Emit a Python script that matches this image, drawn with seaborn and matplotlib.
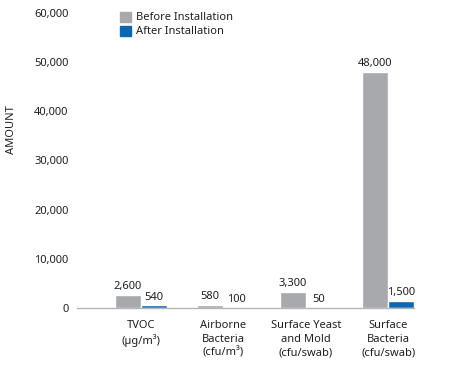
import pandas as pd
import matplotlib.pyplot as plt
import seaborn as sns
from matplotlib.patches import Patch

categories = ["TVOC\n(µg/m³)", "Airborne\nBacteria\n(cfu/m³)",
              "Surface Yeast\nand Mold\n(cfu/swab)", "Surface\nBacteria\n(cfu/swab)"]
before = [2600, 580, 3300, 48000]
after = [540, 100, 50, 1500]
series = ["Before Installation", "After Installation"]
yticks = [0, 10000, 20000, 30000, 40000, 50000, 60000]

df = pd.DataFrame({
    "category": categories * 2,
    "series": [series[0]] * 4 + [series[1]] * 4,
    "amount": before + after,
})

sns.set_style("white")
plt.rcParams["font.family"] = ["Noto Sans", "DejaVu Sans"]
txt = "#231f20"
colors = ["#a7a9ac", "#0a67b2"]
fs = 8

fig = plt.figure(figsize=(4.49, 3.65), dpi=100)
ax = fig.add_axes([77 / 449, 57 / 365, 337 / 449, 295 / 365])

sns.barplot(data=df, x="category", y="amount", hue="series", palette=colors,
            width=0.63, saturation=1, ax=ax, legend=False)

for cont in ax.containers:
    ax.bar_label(cont, labels=[f"{v:,.0f}" for v in cont.datavalues],
                 padding=2, fontsize=fs, color=txt)

ax.set_xlim(-0.77, 3.31)
ax.set_ylim(0, 60000)
ax.set_yticks(yticks)
ax.set_yticklabels([f"{v:,}" for v in yticks])
ax.tick_params(axis="y", length=0, pad=6, labelsize=fs, colors=txt)
ax.tick_params(axis="x", length=0, pad=9, labelsize=fs, colors=txt)
for lbl in ax.get_xticklabels():
    lbl.set_linespacing(1.3)
ax.set_xlabel("")
ax.set_ylabel("")
for s in ["top", "right", "left"]:
    ax.spines[s].set_visible(False)
ax.spines["bottom"].set_color("#b5b5b5")
ax.spines["bottom"].set_linewidth(1)

fig.text(12 / 449, 1 - 130 / 365, "AMOUNT", rotation=90, ha="center", va="center",
         fontsize=fs, color=txt)

handles = [Patch(color=c) for c in colors]
ax.legend(handles, series, loc="upper left", bbox_to_anchor=(0.1, 1.035),
          frameon=False, fontsize=fs, handlelength=1.0, handleheight=1.0,
          handletextpad=0.45, labelspacing=0.2, labelcolor=txt, borderpad=0.3)

fig.savefig("out.png", dpi=100)
